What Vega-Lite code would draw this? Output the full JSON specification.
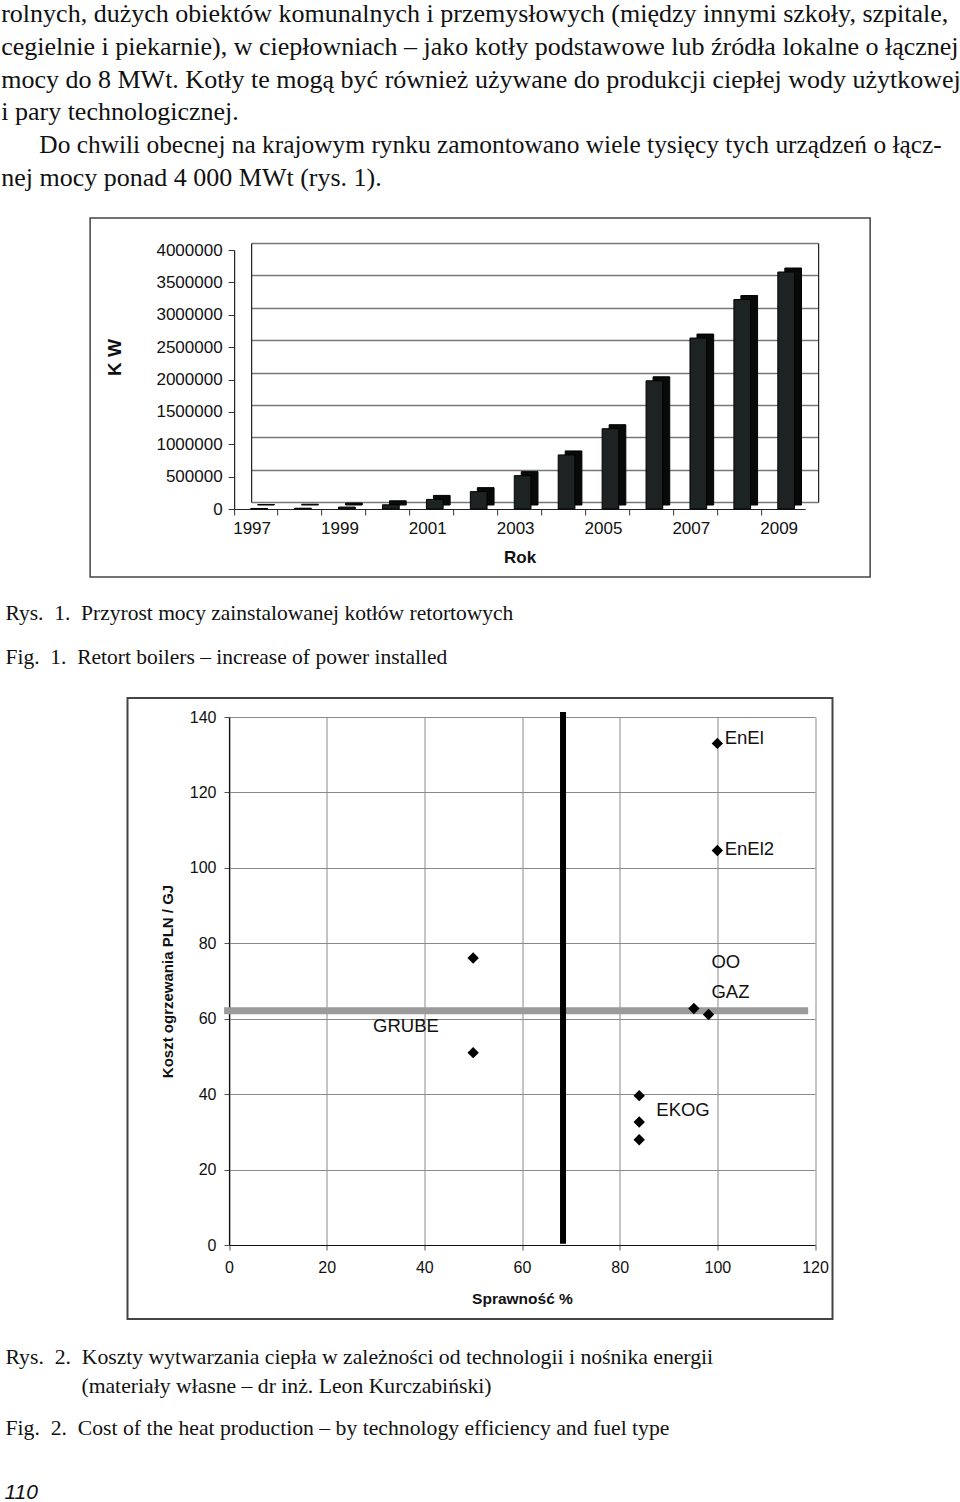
{
  "$schema": "https://vega.github.io/schema/vega-lite/v6.json",
  "padding": 0,
  "background": "white",
  "spacing": 0,
  "center": true,
  "bounds": "full",
  "config": {
    "view": {"stroke": null},
    "axis": {"labelFont": "Liberation Sans", "titleFont": "Liberation Sans", "labelColor": "#111", "titleColor": "#111"}
  },
  "datasets": {
    "bars": [
      {"year": "1997", "kw": 8000},
      {"year": "1998", "kw": 12000},
      {"year": "1999", "kw": 30000},
      {"year": "2000", "kw": 65000},
      {"year": "2001", "kw": 148000},
      {"year": "2002", "kw": 268000},
      {"year": "2003", "kw": 515000},
      {"year": "2004", "kw": 835000},
      {"year": "2005", "kw": 1240000},
      {"year": "2006", "kw": 1980000},
      {"year": "2007", "kw": 2640000},
      {"year": "2008", "kw": 3235000},
      {"year": "2009", "kw": 3660000}
    ],
    "points": [
      {"x": 100, "y": 133},
      {"x": 100, "y": 104.6},
      {"x": 50, "y": 76.1},
      {"x": 50, "y": 51},
      {"x": 95.2, "y": 62.7},
      {"x": 98.2, "y": 61.1},
      {"x": 84, "y": 39.6},
      {"x": 84, "y": 32.6},
      {"x": 84, "y": 27.9}
    ]
  },
  "vconcat": [
    {
      "width": 960,
      "height": 217,
      "data": {"values": [
        {"line": 0, "text": "rolnych, dużych obiektów komunalnych i przemysłowych (między innymi szkoły, szpitale,"},
        {"line": 1, "text": "cegielnie i piekarnie), w ciepłowniach – jako kotły podstawowe lub źródła lokalne o łącznej"},
        {"line": 2, "text": "mocy do 8 MWt. Kotły te mogą być również używane do produkcji ciepłej wody użytkowej"},
        {"line": 3, "text": "i pary technologicznej."},
        {"line": 4, "text": "\u200b\u2003\u2002Do chwili obecnej na krajowym rynku zamontowano wiele tysięcy tych urządzeń o łącz-"},
        {"line": 5, "text": "nej mocy ponad 4\u00a0000 MWt (rys. 1)."}
      ]},
      "encoding": {
        "x": {"datum": 0, "type": "quantitative", "scale": {"domain": [0, 1], "range": [1, 960], "zero": false, "nice": false}, "axis": null},
        "y": {"field": "line", "type": "quantitative", "scale": {"domain": [0, 5], "range": [22, 186], "zero": false, "nice": false}, "axis": null},
        "text": {"field": "text"}
      },
      "layer": [
        {
          "transform": [{"filter": "datum.line != 4"}],
          "mark": {"type": "text", "align": "left", "baseline": "alphabetic", "font": "Liberation Serif", "fontSize": 26, "color": "#111"}
        },
        {
          "transform": [{"filter": "datum.line == 4"}],
          "mark": {"type": "text", "align": "left", "baseline": "alphabetic", "font": "Liberation Serif", "fontSize": 25.4, "color": "#111"}
        }
      ]
    },
    {
      "width": 780,
      "height": 359,
      "view": {"stroke": "#444", "strokeWidth": 1.5},
      "data": {"name": "bars"},
      "layer": [
        {
          "mark": {"type": "point", "opacity": 0},
          "encoding": {
            "x": {"field": "year", "type": "ordinal", "scale": {"type": "band", "range": [161, 728], "paddingInner": 0, "paddingOuter": 0}, "axis": null},
            "y": {"field": "kw", "type": "quantitative", "scale": {"domain": [0, 4000000], "range": [284, 25], "nice": false},
              "axis": {"orient": "left", "offset": -161, "values": [0, 500000, 1000000, 1500000, 2000000, 2500000, 3000000, 3500000, 4000000],
                "labels": false, "ticks": false, "domain": true, "domainColor": "#222", "domainWidth": 1.2,
                "grid": true, "gridColor": "#777", "gridWidth": 1.5, "title": null}}
          }
        },
        {
          "mark": {"type": "point", "opacity": 0},
          "encoding": {
            "x": {"field": "year", "type": "ordinal", "scale": {"type": "band", "range": [144, 715], "paddingInner": 0, "paddingOuter": 0},
              "axis": {"orient": "bottom", "offset": -68, "bandPosition": 0, "labels": false, "ticks": true, "tickSize": 6, "tickColor": "#333", "domain": false, "grid": false, "title": null}},
            "y": {"field": "kw", "type": "quantitative", "scale": {"domain": [0, 4000000], "range": [284, 25], "nice": false},
              "axis": {"orient": "right", "offset": -52, "values": [0, 4000000], "labels": false, "ticks": false, "domain": true, "domainColor": "#222", "domainWidth": 1.2, "grid": false, "title": null}}
          }
        },
        {
          "encoding": {
            "x": {"field": "year", "type": "ordinal", "scale": {"type": "band", "range": [144, 715], "paddingInner": 0.62, "paddingOuter": 0.31},
              "axis": {"orient": "bottom", "offset": -68, "values": ["1997", "1999", "2001", "2003", "2005", "2007", "2009"],
                "ticks": false, "labelPadding": 11, "labelOffset": -4, "labelFontSize": 17, "labelAngle": 0, "domainColor": "#222", "domainWidth": 1.2, "grid": false,
                "title": "Rok", "titleFontSize": 17, "titleFontWeight": "bold", "titlePadding": 13}},
            "y": {"field": "kw", "type": "quantitative", "scale": {"domain": [0, 4000000], "range": [291, 32], "nice": false},
              "axis": {"orient": "left", "offset": -144, "values": [0, 500000, 1000000, 1500000, 2000000, 2500000, 3000000, 3500000, 4000000],
                "format": "d", "grid": false, "tickSize": 6, "tickColor": "#333", "labelPadding": 6, "labelFontSize": 17,
                "domainColor": "#222", "domainWidth": 1.2,
                "title": "K W", "titleFontSize": 19, "titleFontWeight": "bold", "titleX": -110, "titleY": 139}}
          },
          "layer": [
            {"mark": {"type": "bar", "xOffset": 10, "yOffset": -4, "y2Offset": -4, "fill": "#080a0a", "stroke": "#000", "strokeWidth": 1}},
            {"mark": {"type": "bar", "xOffset": 3, "fill": "#1d2322", "stroke": "#000", "strokeWidth": 1}}
          ]
        }
      ],
      "resolve": {"scale": {"x": "independent", "y": "independent"}}
    },
    {
      "width": 960,
      "height": 118.5,
      "data": {"values": [
        {"line": 0, "text": "Rys.\u00a0 1.\u00a0 Przyrost mocy zainstalowanej kotłów retortowych"},
        {"line": 1, "text": "Fig.\u00a0 1.\u00a0 Retort boilers – increase of power installed"}
      ]},
      "mark": {"type": "text", "align": "left", "baseline": "alphabetic", "font": "Liberation Serif", "fontSize": 21.5, "color": "#111"},
      "encoding": {
        "x": {"datum": 0, "type": "quantitative", "scale": {"domain": [0, 1], "range": [5, 960], "zero": false, "nice": false}, "axis": null},
        "y": {"field": "line", "type": "quantitative", "scale": {"domain": [0, 1], "range": [42, 86], "zero": false, "nice": false}, "axis": null},
        "text": {"field": "text"}
      }
    },
    {
      "width": 705,
      "height": 621,
      "view": {"stroke": "#444", "strokeWidth": 2},
      "layer": [
        {
          "data": {"name": "points"},
          "mark": {"type": "point", "opacity": 0},
          "encoding": {
            "x": {"field": "x", "type": "quantitative", "scale": {"domain": [0, 120], "range": [101.5, 687.5], "nice": false, "zero": false},
              "axis": {"orient": "top", "offset": 0, "values": [0, 20, 40, 60, 80, 100, 120], "grid": true, "gridColor": "#8a8a8a", "gridWidth": 1,
                "labels": false, "ticks": false, "domain": false, "title": null}},
            "y": {"field": "y", "type": "quantitative", "scale": {"domain": [0, 140], "range": [547, 19], "nice": false, "zero": false}, "axis": null}
          }
        },
        {
          "encoding": {
            "x": {"field": "x", "type": "quantitative", "scale": {"domain": [0, 120], "range": [101.5, 687.5], "nice": false, "zero": false},
              "axis": {"orient": "bottom", "offset": -74, "values": [0, 20, 40, 60, 80, 100, 120], "grid": false, "labelFlush": false,
                "tickSize": 5, "tickColor": "#555", "domainColor": "#111", "domainWidth": 1.2, "labelFontSize": 16, "labelPadding": 9,
                "title": "Sprawność %", "titleFontSize": 15.5, "titleFontWeight": "bold", "titlePadding": 16}},
            "y": {"field": "y", "type": "quantitative", "scale": {"domain": [0, 140], "range": [547, 19], "nice": false, "zero": false},
              "axis": {"orient": "left", "offset": -101.5, "values": [0, 20, 40, 60, 80, 100, 120, 140], "grid": true, "gridColor": "#8a8a8a", "gridWidth": 1,
                "labelFlush": false, "tickSize": 5, "tickColor": "#555", "domainColor": "#111", "domainWidth": 1.2, "labelFontSize": 16, "labelPadding": 8,
                "title": "Koszt ogrzewania PLN / GJ", "titleFontSize": 15, "titleFontWeight": "bold", "titlePadding": 14}}
          },
          "layer": [
            {
              "data": {"values": [{"x": -1, "x2": 118.6, "y": 62.1}]},
              "mark": {"type": "rule", "stroke": "#9b9b9b", "strokeWidth": 7},
              "encoding": {"x2": {"field": "x2"}}
            },
            {
              "data": {"values": [{"x": 68.4, "y": 0.3, "y2": 141.3}]},
              "mark": {"type": "rule", "stroke": "#000", "strokeWidth": 6},
              "encoding": {"y2": {"field": "y2"}}
            },
            {
              "data": {"name": "points"},
              "mark": {"type": "point", "shape": "diamond", "filled": true, "color": "#000", "size": 130, "opacity": 1}
            },
            {
              "data": {"values": [
                {"x": 101.5, "y": 134.5, "label": "EnEl"},
                {"x": 101.5, "y": 105, "label": "EnEl2"},
                {"x": 98.8, "y": 75, "label": "OO"},
                {"x": 98.8, "y": 67.2, "label": "GAZ"},
                {"x": 29.5, "y": 58.1, "label": "GRUBE"},
                {"x": 87.5, "y": 35.8, "label": "EKOG"}
              ]},
              "mark": {"type": "text", "align": "left", "baseline": "middle", "font": "Liberation Sans", "fontSize": 18.5, "color": "#111"},
              "encoding": {"text": {"field": "label"}}
            }
          ]
        }
      ],
      "resolve": {"scale": {"x": "independent", "y": "independent"}}
    },
    {
      "width": 960,
      "height": 184,
      "layer": [
        {
          "data": {"values": [
            {"line": 0, "text": "Rys.\u00a0 2.\u00a0 Koszty wytwarzania ciepła w zależności od technologii i nośnika energii"},
            {"line": 1, "text": "\u200b\u2003\u2003\u2003\u2002(materiały własne – dr inż. Leon Kurczabiński)"}
          ]},
          "mark": {"type": "text", "align": "left", "baseline": "alphabetic", "font": "Liberation Serif", "fontSize": 21.7, "color": "#111"},
          "encoding": {
            "x": {"datum": 0, "type": "quantitative", "scale": {"domain": [0, 1], "range": [5, 960], "zero": false, "nice": false}, "axis": null},
            "y": {"field": "line", "type": "quantitative", "scale": {"domain": [0, 1], "range": [43.5, 72.5], "zero": false, "nice": false}, "axis": null},
            "text": {"field": "text"}
          }
        },
        {
          "data": {"values": [
            {"line": 0, "text": "Fig.\u00a0 2.\u00a0 Cost of the heat production – by technology efficiency and fuel type"}
          ]},
          "mark": {"type": "text", "align": "left", "baseline": "alphabetic", "font": "Liberation Serif", "fontSize": 21.7, "color": "#111"},
          "encoding": {
            "x": {"datum": 0, "type": "quantitative", "scale": {"domain": [0, 1], "range": [5, 960], "zero": false, "nice": false}, "axis": null},
            "y": {"field": "line", "type": "quantitative", "scale": {"domain": [0, 1], "range": [114.5, 143.5], "zero": false, "nice": false}, "axis": null},
            "text": {"field": "text"}
          }
        },
        {
          "data": {"values": [{"line": 0, "text": "110"}]},
          "mark": {"type": "text", "align": "left", "baseline": "alphabetic", "font": "Liberation Sans", "fontStyle": "italic", "fontSize": 21, "color": "#111"},
          "encoding": {
            "x": {"datum": 0, "type": "quantitative", "scale": {"domain": [0, 1], "range": [4, 960], "zero": false, "nice": false}, "axis": null},
            "y": {"field": "line", "type": "quantitative", "scale": {"domain": [0, 1], "range": [179, 208], "zero": false, "nice": false}, "axis": null},
            "text": {"field": "text"}
          }
        }
      ],
      "resolve": {"scale": {"x": "independent", "y": "independent"}}
    }
  ]
}
